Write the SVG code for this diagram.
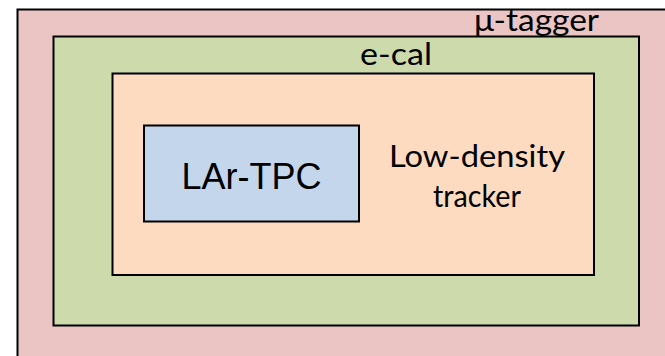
<svg xmlns="http://www.w3.org/2000/svg" width="665" height="356" viewBox="0 0 665 356">
  <style>
    .box { stroke: #000000; stroke-width: 2; }
    .lbl { font-family: Lato, "Open Sans", "Liberation Sans", sans-serif; font-size: 30px; fill: #000000; }
    .core { font-family: "Liberation Sans", Arial, sans-serif; font-size: 36px; fill: #000000; }
  </style>
  <rect x="0" y="0" width="665" height="356" fill="#ffffff"/>
  <g id="mu-tagger">
    <rect class="box" x="17.5" y="9.5" width="660" height="360" fill="#EBC4C4"/>
    <text class="lbl" x="474" y="30.5" textLength="125" lengthAdjust="spacingAndGlyphs">μ-tagger</text>
  </g>
  <g id="e-cal">
    <rect class="box" x="53.5" y="36.5" width="585.5" height="289" fill="#CDDBAC"/>
    <text class="lbl" x="360" y="65" textLength="72" lengthAdjust="spacingAndGlyphs">e-cal</text>
  </g>
  <g id="low-density-tracker">
    <rect class="box" x="112.5" y="73.5" width="481.5" height="201.5" fill="#FCDBC0"/>
    <text class="lbl" x="389" y="167" textLength="176" lengthAdjust="spacingAndGlyphs">Low-density</text>
    <text class="lbl" x="433" y="206.5" textLength="88" lengthAdjust="spacingAndGlyphs">tracker</text>
  </g>
  <g id="lar-tpc">
    <rect class="box" x="144" y="125.5" width="215" height="96" fill="#C3D6EB"/>
    <text class="core" x="251.5" y="189" text-anchor="middle">LAr-TPC</text>
  </g>
  <g id="connectors"/>
</svg>
